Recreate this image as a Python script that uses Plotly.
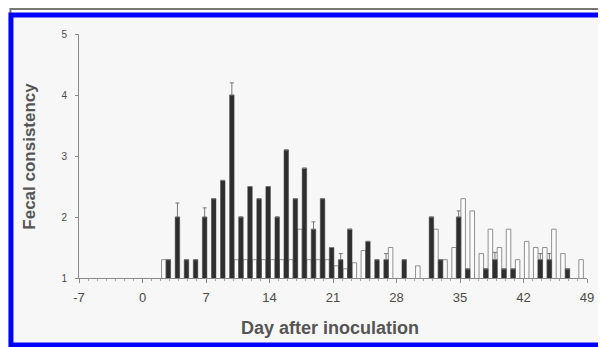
import plotly.graph_objects as go

# ---- data ----
days = list(range(3, 50))
# open (white) bars, fecal consistency score (1 = baseline / none)
white_vals = [1.3, 1.0, 1.0, 1.0, 1.0, 1.0, 1.0, 1.0, 1.3, 1.3,   # 3-12
              1.3, 1.3, 1.3, 1.3, 1.3, 1.8, 1.3, 1.3, 1.3, 1.2,   # 13-22
              1.15, 1.25, 1.45, 1.0, 1.0, 1.5, 1.0, 1.0, 1.2, 1.0,  # 23-32
              1.8, 1.3, 1.5, 2.3, 2.1, 1.4, 1.8, 1.5, 1.8, 1.3,   # 33-42
              1.6, 1.5, 1.5, 1.8, 1.4, 1.0, 1.3]                  # 43-49
# filled (dark) bars
dark_vals = [1.3, 2.0, 1.3, 1.3, 2.0, 2.3, 2.6, 4.0, 2.0, 2.5,    # 3-12
             2.3, 2.5, 2.0, 3.1, 2.3, 2.8, 1.8, 2.3, 1.5, 1.3,    # 13-22
             1.8, 1.0, 1.6, 1.3, 1.3, 1.0, 1.3, 1.0, 1.0, 2.0,    # 23-32
             1.3, 1.0, 2.0, 1.15, 1.0, 1.15, 1.3, 1.15, 1.15, 1.0,  # 33-42
             1.0, 1.3, 1.3, 1.0, 1.15, 1.0, 1.0]                  # 43-49
# upper error bars (SE) on the dark bars
dark_err = {4: 0.23, 7: 0.15, 10: 0.2, 19: 0.12, 22: 0.1, 27: 0.1,
            35: 0.1, 39: 0.12, 44: 0.1, 45: 0.1}

x_ticks = [-7, 0, 7, 14, 21, 28, 35, 42, 49]
y_ticks = [1, 2, 3, 4, 5]

# ---- layout geometry (page pixels; the page body adds an 8px margin) ----
OFF = 8
W, H = 606 - OFF, 347 - OFF
L, R, T, B = 79, 594, 34, 278   # plot area in page pixels


def px(x):
    return (x - L) / (R - L)


def py(y):
    return (B - y) / (B - T)


def keep(vals):
    return [v if v > 1.0 else None for v in vals]


err_plus = [dark_err.get(d, 0) for d in days]

fig = go.Figure()
fig.add_trace(go.Bar(
    x=days, y=keep(white_vals), width=0.5, offset=-0.9,
    marker=dict(color="#fbfbfb", line=dict(color="#909090", width=1)),
    showlegend=False,
))
fig.add_trace(go.Bar(
    x=days, y=keep(dark_vals), width=0.5, offset=-0.4,
    marker=dict(color="#2e2e2e", line=dict(color="#444", width=0.5)),
    error_y=dict(type="data", array=err_plus, arrayminus=[0] * len(days),
                 symmetric=False, color="#777", thickness=1, width=2),
    showlegend=False,
))

font = "Liberation Sans, Arial, sans-serif"
fig.update_layout(
    width=W, height=H,
    margin=dict(l=L - OFF, r=606 - R, t=T - OFF, b=347 - B),
    paper_bgcolor="white",
    plot_bgcolor="rgba(0,0,0,0)",
    barmode="overlay",
    font=dict(family=font, color="#555", size=11),
    xaxis=dict(range=[-7, 49], tickvals=x_ticks, ticktext=[str(v) for v in x_ticks],
               showgrid=False, zeroline=False, showline=True, linecolor="#8a8a8a",
               linewidth=1, ticks="outside", ticklen=4, tickcolor="#8a8a8a",
               ticklabelstandoff=3,
               minor=dict(dtick=1, tick0=0, ticks="outside", ticklen=2, tickcolor="#aaa"),
               tickfont=dict(size=13, color="#4a4a4a", family=font)),
    yaxis=dict(range=[1, 5], tickvals=y_ticks, showgrid=False, zeroline=False,
               showline=True, linecolor="#8a8a8a", linewidth=1, ticks="outside",
               ticklen=3, tickcolor="#8a8a8a", ticklabelstandoff=6,
               tickfont=dict(size=10, color="#4a4a4a", family=font)),
    annotations=[
        dict(text="<b>Day after inoculation</b>", x=px(333), y=py(328), xref="paper",
             yref="paper", showarrow=False, xanchor="center", yanchor="middle",
             font=dict(size=18, color="#555", family=font)),
        dict(text="<b>Fecal consistency</b>", x=px(28), y=py(156), xref="paper",
             yref="paper", showarrow=False, xanchor="center", yanchor="middle",
             textangle=-90, font=dict(size=17, color="#555", family=font)),
    ],
    shapes=[
        # scan background inside frame
        dict(type="rect", xref="paper", yref="paper", x0=px(10), x1=px(606),
             y0=py(345), y1=py(15), fillcolor="#f7f7f7", line=dict(width=0),
             layer="below"),
        # gray line above frame
        dict(type="path", xref="paper", yref="paper",
             path=f"M {px(9.5)} {py(14)} L {px(9.5)} {py(9)} L {px(606)} {py(9)}",
             line=dict(color="#777", width=2), layer="above"),
        # blue frame (right edge runs off the picture)
        dict(type="rect", xref="paper", yref="paper", x0=px(10), x1=px(612),
             y0=py(345), y1=py(15), line=dict(color="#0000ff", width=5),
             fillcolor="rgba(0,0,0,0)", layer="above"),
    ],
)

fig.write_html("out.html")
